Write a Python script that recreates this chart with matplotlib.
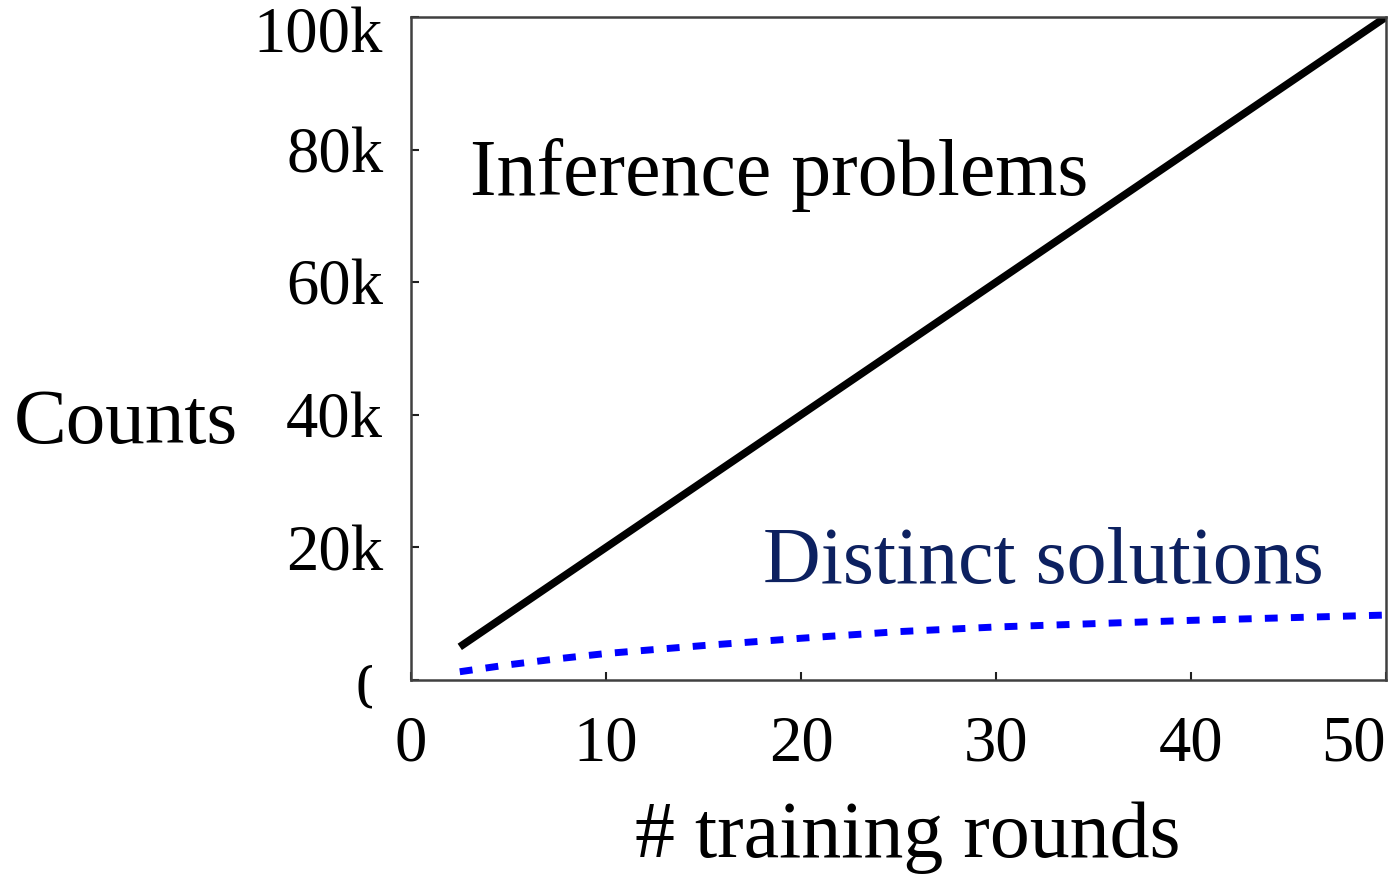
import numpy as np
import matplotlib
matplotlib.use("Agg")
import matplotlib.pyplot as plt
from matplotlib.transforms import Bbox, ScaledTranslation

plt.rcParams['font.family'] = ['Liberation Serif', 'DejaVu Serif']

# data
rounds = [2.5, 5, 7.5, 10, 15, 20, 25, 30, 35, 40, 45, 50]
problems = [5000, 10000, 15000, 20000, 30000, 40000, 50000, 60000, 70000, 80000, 90000, 100000]
solutions = [1250, 2300, 3200, 4000, 5200, 6300, 7300, 8000, 8500, 9000, 9400, 9800]

xticks = [0, 10, 20, 30, 40, 50]
yticks = [0, 20000, 40000, 60000, 80000, 100000]
ytick_labels = ['0', '20k', '40k', '60k', '80k', '100k']

fig = plt.figure(figsize=(13.9, 8.82), dpi=100)
ax = fig.add_axes([0.2957, 0.229, 0.7014, 0.7517])

ax.plot(rounds, problems, color='k', lw=5.5, solid_capstyle='butt')
ax.plot(rounds, solutions, color='#0000ff', lw=5, linestyle=(0, (1.85, 1.9)))

ax.set_xlim(0, 50)
ax.set_ylim(0, 100000)
ax.set_xticks(xticks)
ax.set_yticks(yticks)
ax.set_yticklabels(ytick_labels)

for s in ax.spines.values():
    s.set_color('#404040')
    s.set_linewidth(1.8)

ax.tick_params(direction='in', length=6, width=1.5, color='#202020',
               labelsize=46.5, top=False, right=False)
ax.tick_params(axis='y', pad=20)
ax.tick_params(axis='x', pad=25)

ax.text(3.0, 73200, 'Inference problems', fontsize=57.5, color='k', va='baseline')
ax.text(18.05, 14600, 'Distinct solutions', fontsize=57.5, color='#0d2160', va='baseline')

ax.set_ylabel('Counts', rotation=0, fontsize=57, ha='center', va='baseline')
ax.yaxis.set_label_coords(-0.292, 0.357)
ax.set_xlabel('# training rounds', fontsize=57.5, ha='center', va='baseline')
ax.xaxis.set_label_coords(0.509, -0.267)

fig.canvas.draw()

# edge labels are nudged inside the figure, as in the original
ylbls = ax.get_yticklabels()
top_lbl = ylbls[-1]
top_lbl.set_transform(top_lbl.get_transform() + ScaledTranslation(0, -9.4 / 72, fig.dpi_scale_trans))

# the "0" on the y axis is partly cut off in the original
zero_lbl = ylbls[0]
zero_lbl.set_transform(zero_lbl.get_transform() + ScaledTranslation(3 / 72, -3.2 / 72, fig.dpi_scale_trans))
zero_lbl.set_clip_on(True)
zero_lbl.set_clip_box(Bbox.from_extents(300, 0, 372, 882 - 650))

xlbls = ax.get_xticklabels()
xlbls[-1].set_ha('right')

fig.savefig('out.png', dpi=100)
